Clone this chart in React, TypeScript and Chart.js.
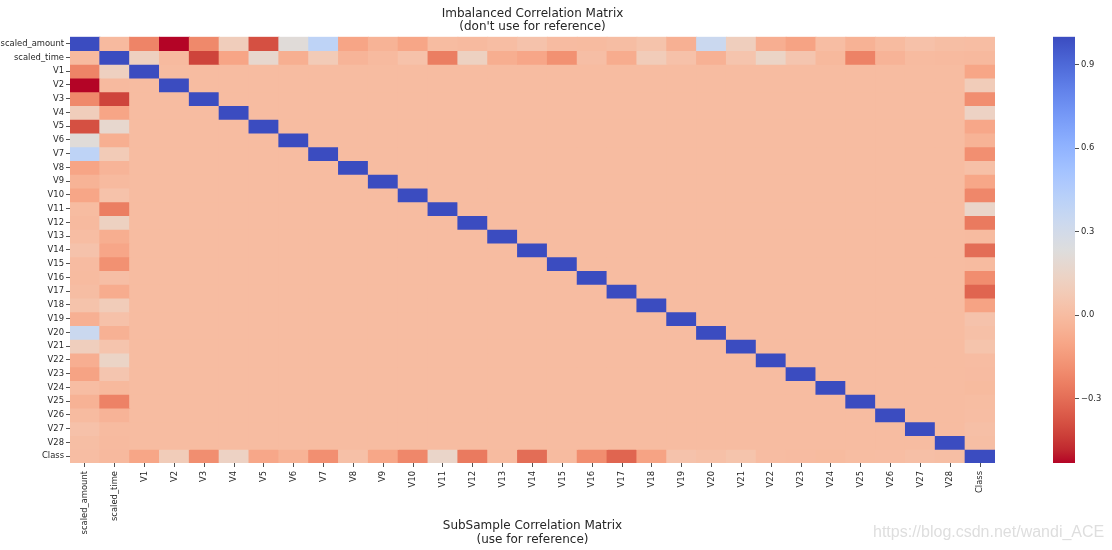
import React, { useEffect, useRef } from "react";
import { Chart, registerables } from "chart.js";

Chart.register(...registerables);

const labels = [
  "scaled_amount", "scaled_time", "V1", "V2", "V3", "V4", "V5", "V6", "V7", "V8", "V9",
  "V10", "V11", "V12", "V13", "V14", "V15", "V16", "V17", "V18", "V19", "V20",
  "V21", "V22", "V23", "V24", "V25", "V26", "V27", "V28", "Class",
];

// correlation of every column with scaled_amount
const amountCorr = [
  1, -0.0106, -0.2277, -0.5314, -0.2109, 0.0987, -0.3864, 0.216, 0.3973, -0.1031, -0.0442,
  -0.1015, 0.0001, -0.0095, 0.0053, 0.0338, -0.003, -0.0039, 0.0073, 0.0358, -0.0561, 0.3394,
  0.106, -0.0648, -0.1126, 0.0051, -0.0479, -0.0032, 0.0288, 0.0103, 0.0056,
];

// correlation of every column with scaled_time
const timeCorr = [
  -0.0106, 1, 0.1174, -0.0106, -0.4196, -0.1053, 0.1731, -0.063, 0.0847, -0.0369, -0.0087,
  0.0306, -0.2477, 0.1244, -0.0659, -0.0988, -0.1835, 0.0119, -0.0733, 0.0904, 0.029, -0.051,
  0.0447, 0.1441, 0.0511, -0.0162, -0.2331, -0.0414, -0.0051, -0.0094, -0.0123,
];

// correlation of every column with Class
const classCorr = [
  0.0056, -0.0123, -0.1013, 0.0913, -0.193, 0.1334, -0.095, -0.0436, -0.1873, 0.0199, -0.0977,
  -0.2169, 0.1549, -0.2606, -0.0046, -0.3025, -0.0042, -0.1965, -0.3265, -0.1115, 0.0348, 0.0201,
  0.0404, 0.0008, -0.0027, -0.0072, 0.0033, 0.0045, 0.0176, 0.0095, 1,
];

// correlation between two different PCA components V_i / V_j
const pcaCrossCorr = 0;

const colorbarTicks = [-0.3, 0, 0.3, 0.6, 0.9];

// matplotlib coolwarm (Moreland) control colours
const COOLWARM: number[][] = [
  [59, 76, 192], [68, 90, 204], [77, 104, 215], [87, 117, 225], [98, 130, 234],
  [108, 142, 241], [119, 154, 247], [130, 165, 251], [141, 176, 254], [152, 185, 255],
  [163, 194, 255], [174, 201, 253], [184, 208, 249], [194, 213, 244], [204, 217, 238],
  [213, 219, 230], [221, 221, 221], [229, 216, 209], [236, 211, 197], [241, 204, 185],
  [245, 196, 173], [247, 187, 160], [247, 177, 148], [247, 166, 135], [244, 154, 123],
  [241, 141, 111], [236, 127, 99], [229, 112, 88], [222, 96, 77], [213, 80, 66],
  [203, 62, 56], [192, 40, 47], [180, 4, 38],
];

function coolwarm(t: number): string {
  const tt = Math.max(0, Math.min(1, t));
  const pos = tt * (COOLWARM.length - 1);
  const i = Math.min(Math.floor(pos), COOLWARM.length - 2);
  const f = pos - i;
  const a = COOLWARM[i];
  const b = COOLWARM[i + 1];
  const c = [0, 1, 2].map((k) => Math.round(a[k] + (b[k] - a[k]) * f));
  return `rgb(${c[0]},${c[1]},${c[2]})`;
}

const N = labels.length;
const matrix: number[][] = labels.map((_, i) =>
  labels.map((__, j) => {
    if (i === j) return 1;
    if (i === 0) return amountCorr[j];
    if (j === 0) return amountCorr[i];
    if (i === 1) return timeCorr[j];
    if (j === 1) return timeCorr[i];
    if (i === N - 1) return classCorr[j];
    if (j === N - 1) return classCorr[i];
    return pcaCrossCorr;
  })
);

const vmin = Math.min(...matrix.map((r) => Math.min(...r)));
const vmax = Math.max(...matrix.map((r) => Math.max(...r)));

// coolwarm reversed: high = blue, low = red
function corrColor(v: number): string {
  return coolwarm(1 - (v - vmin) / (vmax - vmin));
}

const TEXT = "#262626";
const FONT = "DejaVu Sans";

export default function App() {
  const mainRef = useRef<HTMLCanvasElement>(null);
  const barRef = useRef<HTMLCanvasElement>(null);

  useEffect(() => {
    const datasets = labels.map((rowLabel, i) => ({
      label: rowLabel,
      data: labels.map(() => [i, i + 1] as [number, number]),
      backgroundColor: labels.map((_, j) => corrColor(matrix[i][j])),
      borderWidth: 0,
      inflateAmount: 0.5,
      barPercentage: 1,
      categoryPercentage: 1,
      grouped: false,
    }));

    const main = new Chart(mainRef.current!, {
      type: "bar",
      data: { labels, datasets: datasets as any },
      options: {
        animation: false,
        responsive: false,
        devicePixelRatio: 1,
        layout: { padding: { top: 36.7, right: 45, bottom: 0, left: 0 } },
        plugins: { legend: { display: false }, tooltip: { enabled: false } },
        scales: {
          x: {
            type: "category",
            offset: true,
            afterFit: (s: any) => {
              s.height = 87;
            },
            grid: { offset: false, drawOnChartArea: false, drawTicks: true, tickLength: 4, color: TEXT, lineWidth: 0.8 },
            border: { display: false },
            ticks: {
              autoSkip: false,
              minRotation: 90,
              maxRotation: 90,
              padding: 4,
              color: TEXT,
              font: { family: FONT, size: 8.4 },
            },
          },
          y: {
            type: "linear",
            reverse: true,
            min: 0,
            max: N,
            afterBuildTicks: (s: any) => {
              s.ticks = labels.map((_, i) => ({ value: i + 0.5 }));
            },
            afterFit: (s: any) => {
              s.width = 70;
            },
            grid: { drawOnChartArea: false, drawTicks: true, tickLength: 4, color: TEXT, lineWidth: 0.8 },
            border: { display: false },
            ticks: {
              autoSkip: false,
              padding: 2,
              color: TEXT,
              font: { family: FONT, size: 8.4 },
              callback: (v: any) => labels[Math.floor(Number(v))],
            },
          },
        },
      },
    });

    const cbar = new Chart(barRef.current!, {
      type: "bar",
      data: {
        labels: [""],
        datasets: [
          {
            data: [[vmin, vmax]] as any,
            borderWidth: 0,
            barPercentage: 1,
            categoryPercentage: 1,
            backgroundColor: (ctx: any) => {
              const chart = ctx.chart;
              const area = chart.chartArea;
              if (!area) return "rgba(0,0,0,0)";
              const ys = chart.scales.y;
              const y0 = ys.getPixelForValue(vmax);
              const y1 = ys.getPixelForValue(vmin);
              const g = chart.ctx.createLinearGradient(0, y0, 0, y1);
              COOLWARM.forEach((_, k) => {
                const t = k / (COOLWARM.length - 1);
                g.addColorStop(t, coolwarm(t));
              });
              return g;
            },
          },
        ],
      },
      options: {
        animation: false,
        responsive: false,
        devicePixelRatio: 1,
        layout: { padding: { top: 36.7, right: 0, bottom: 87, left: 13 } },
        plugins: { legend: { display: false }, tooltip: { enabled: false } },
        scales: {
          x: { display: false },
          y: {
            type: "linear",
            position: "right",
            min: vmin,
            max: vmax,
            afterBuildTicks: (s: any) => {
              s.ticks = colorbarTicks.map((v) => ({ value: v }));
            },
            afterFit: (s: any) => {
              s.width = 37;
            },
            grid: { drawOnChartArea: false, drawTicks: true, tickLength: 4, color: TEXT, lineWidth: 0.8 },
            border: { display: false },
            ticks: {
              autoSkip: false,
              padding: 2,
              color: TEXT,
              font: { family: FONT, size: 8.4 },
              callback: (v: any) => Number(v).toFixed(1).replace("-", "\u2212"),
            },
          },
        },
      },
    });

    return () => {
      main.destroy();
      cbar.destroy();
    };
  }, []);

  return (
    <div
      style={{
        position: "absolute",
        left: 0,
        top: 0,
        width: 1112,
        height: 550,
        background: "#fff",
        overflow: "hidden",
        fontFamily: FONT,
      }}
    >
      <canvas ref={mainRef} width={1040} height={550} style={{ position: "absolute", left: 0, top: 0 }} />
      <canvas ref={barRef} width={72} height={550} style={{ position: "absolute", left: 1040, top: 0 }} />
      <div
        style={{
          position: "absolute",
          left: 0,
          top: 6.5,
          width: 1065,
          textAlign: "center",
          fontSize: 12,
          lineHeight: "13.5px",
          color: TEXT,
        }}
      >
        Imbalanced Correlation Matrix
        <br />
        (don't use for reference)
      </div>
      <div
        style={{
          position: "absolute",
          left: 0,
          top: 519,
          width: 1065,
          textAlign: "center",
          fontSize: 12,
          lineHeight: "13.5px",
          color: TEXT,
        }}
      >
        SubSample Correlation Matrix
        <br />
        (use for reference)
      </div>
      <div
        style={{
          position: "absolute",
          left: 873,
          top: 523,
          fontFamily: "Liberation Sans",
          fontSize: 16,
          lineHeight: "18px",
          color: "#dedede",
          whiteSpace: "nowrap",
        }}
      >
        https://blog.csdn.net/wandi_ACE
      </div>
    </div>
  );
}
